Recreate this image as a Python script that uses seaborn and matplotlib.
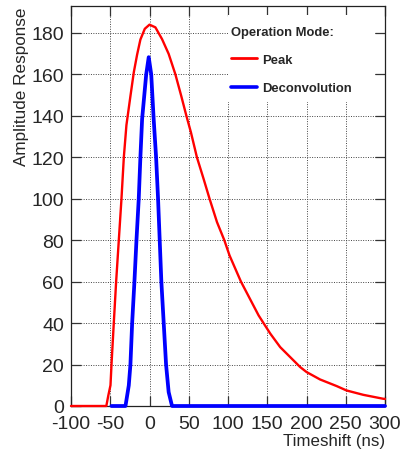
import matplotlib
matplotlib.use("Agg")
import matplotlib.pyplot as plt
import matplotlib.patches as mpatches
from matplotlib.lines import Line2D
import pandas as pd
import seaborn as sns

# Peak-mode shaping response (ns, amplitude)
peak_t = [-100, -55, -52.5, -49.7, -48.4, -45.5, -42.5, -39.1, -35.7, -32.7,
          -29.4, -24.3, -20, -15.8, -11.6, -6, 0, 7.5, 16, 24.4, 33, 40.5,
          47, 52.8, 60.4, 68.9, 76.5, 86, 95.3, 102, 116.5, 139, 153.9, 166.5,
          179.2, 191.9, 200, 217.3, 238.5, 251, 272.2, 297.6, 300]
peak_amp = [0, 0, 5, 10, 20, 40, 60, 80, 100, 120,
            135.5, 149.5, 161, 169.5, 176.8, 182, 184, 182.7, 177, 169.9, 160, 149.5,
            140, 132, 120, 109.6, 100, 88.7, 80, 72.6, 60, 43.7, 34.9, 28.4,
            23.6, 18.8, 16.4, 12.8, 9.6, 7.5, 5.4, 3.5, 3.4]

# Deconvolution-mode response (ns, amplitude)
deco_t = [-48.5, -30.6, -26.4, -24.3, -22.1, -19.2, -16.6, -13.7, -11.6, -9.4,
          -4.2, -1, 2.2, 5.3, 8.4, 10.9, 13, 15.1, 18.1, 21.1, 24.4, 28.7, 300]
deco_amp = [0, 0, 9.9, 20, 40, 60, 80, 100, 120, 138.5,
            160, 168.3, 160, 138.5, 120, 100, 80, 60, 40, 20, 6.7, 0, 0]

x_ticks = [-100, -50, 0, 50, 100, 150, 200, 250, 300]
y_ticks = [0, 20, 40, 60, 80, 100, 120, 140, 160, 180]

legend_title = "Operation Mode:"
mode_labels = ["Peak", "Deconvolution"]
mode_colors = ["#ff0000", "#0000ff"]

sns.set_theme(style="white")
plt.rcParams["font.family"] = ["Liberation Sans", "DejaVu Sans"]

W, H = 403, 452
fig = plt.figure(figsize=(W / 100, H / 100), dpi=100)
ax = fig.add_axes([71 / W, 1 - 407 / H, 314 / W, 400 / H])

peak_df = pd.DataFrame({"t": peak_t, "amp": peak_amp})
deco_df = pd.DataFrame({"t": deco_t, "amp": deco_amp})

sns.lineplot(data=peak_df, x="t", y="amp", sort=False, estimator=None,
             color=mode_colors[0], linewidth=1.7, ax=ax, clip_on=False, zorder=3)
sns.lineplot(data=deco_df, x="t", y="amp", sort=False, estimator=None,
             color=mode_colors[1], linewidth=2.7, ax=ax, clip_on=False, zorder=3)

ax.set_xlim(-100, 300)
ax.set_ylim(0, 193)
ax.set_xticks(x_ticks)
ax.set_yticks(y_ticks)
ax.set_xticklabels([str(v) for v in x_ticks])
ax.set_yticklabels([str(v) for v in y_ticks])

ax.set_axisbelow(True)
ax.grid(True, color="#444444", linestyle=(0, (1, 1.5)), linewidth=0.7)

for s in ax.spines.values():
    s.set_visible(True)
    s.set_color("#222222")
    s.set_linewidth(0.9)

ax.tick_params(axis="both", which="major", direction="in", length=7,
               width=0.9, color="#333333", labelsize=14,
               top=True, right=True, bottom=True, left=True)
ax.tick_params(axis="y", pad=5)
ax.tick_params(axis="x", pad=6.5)

ax.set_xlabel("Timeshift (ns)", fontsize=12.2, loc="right")
ax.set_ylabel("Amplitude Response", fontsize=12.3, loc="top")
ax.xaxis.set_label_coords(1.0, -0.067)
ax.yaxis.set_label_coords(-0.135, 1.0)

# white panel behind the legend
ax.add_patch(mpatches.Rectangle((0.5, 0.76), 0.468, 0.2175,
                                transform=ax.transAxes, facecolor="white",
                                edgecolor="none", zorder=1))

handles = [Line2D([], [], color=mode_colors[0], linewidth=2.0),
           Line2D([], [], color=mode_colors[1], linewidth=2.6)]
leg = ax.legend(handles, mode_labels, title=legend_title,
                loc="upper left", bbox_to_anchor=(226 / W, 1 - 22 / H),
                bbox_transform=fig.transFigure, frameon=False,
                prop={"weight": "bold", "size": 9.4},
                title_fontproperties={"weight": "bold", "size": 9.4},
                alignment="left", handlelength=2.0, handletextpad=0.4,
                labelspacing=1.25, borderaxespad=0)
leg.set_zorder(4)
leg._legend_box.sep = 11
sns.despine(ax=ax, top=False, right=False)

fig.savefig("out.png", dpi=100)
